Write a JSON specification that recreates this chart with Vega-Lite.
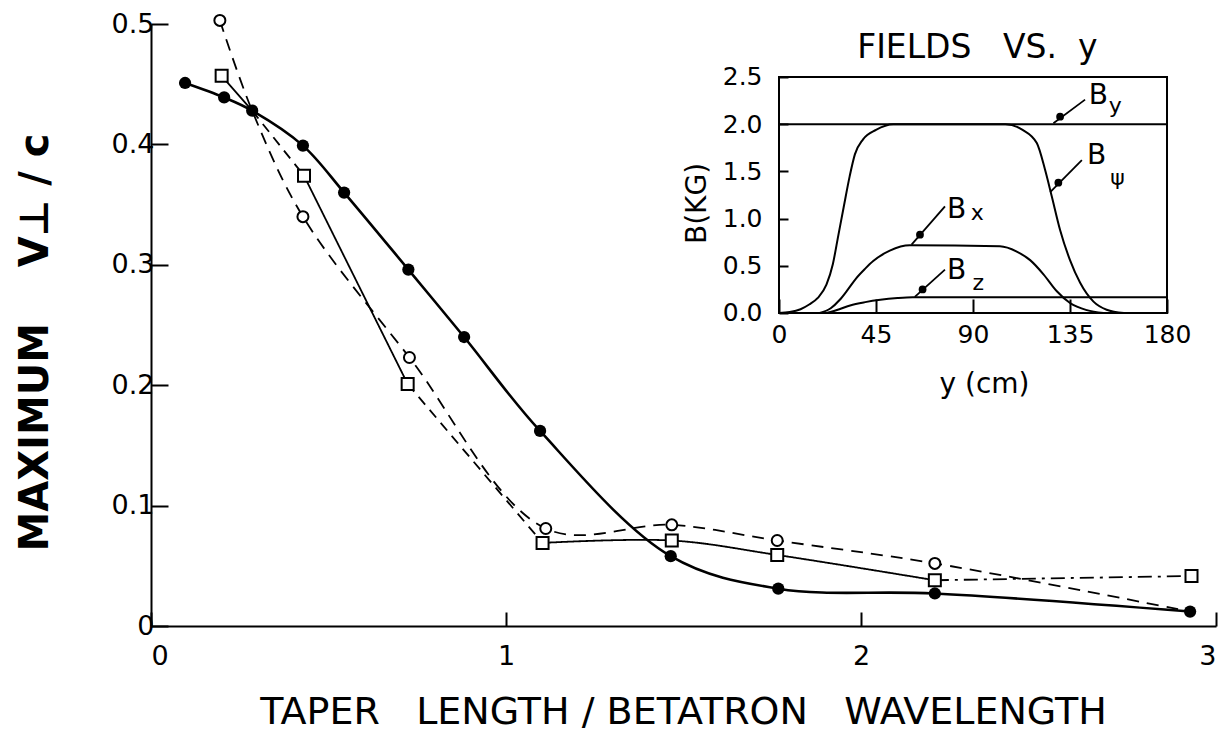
{
  "$schema": "https://vega.github.io/schema/vega-lite/v6.json",
  "width": 1065,
  "height": 602,
  "autosize": {"type": "none"},
  "padding": {"left": 151, "top": 24, "right": 14, "bottom": 108},
  "background": "white",
  "config": {
    "view": {"stroke": null},
    "font": "DejaVu Sans",
    "axis": {
      "grid": false,
      "domainColor": "black",
      "tickColor": "black",
      "labelColor": "black",
      "titleColor": "black",
      "labelFont": "DejaVu Sans",
      "titleFont": "DejaVu Sans",
      "titleFontWeight": "normal"
    }
  },
  "datasets": {
    "main_points": [
      {"series": "filled", "x": 0.096, "y": 0.451},
      {"series": "filled", "x": 0.206, "y": 0.439},
      {"series": "filled", "x": 0.285, "y": 0.428},
      {"series": "filled", "x": 0.428, "y": 0.399},
      {"series": "filled", "x": 0.544, "y": 0.360},
      {"series": "filled", "x": 0.725, "y": 0.296},
      {"series": "filled", "x": 0.882, "y": 0.240},
      {"series": "filled", "x": 1.096, "y": 0.162},
      {"series": "filled", "x": 1.464, "y": 0.058},
      {"series": "filled", "x": 1.767, "y": 0.031},
      {"series": "filled", "x": 2.208, "y": 0.027},
      {"series": "filled", "x": 2.927, "y": 0.012},
      {"series": "open", "x": 0.194, "y": 0.503},
      {"series": "open", "x": 0.285, "y": 0.428},
      {"series": "open", "x": 0.428, "y": 0.340},
      {"series": "open", "x": 0.728, "y": 0.223},
      {"series": "open", "x": 1.112, "y": 0.081},
      {"series": "open", "x": 1.467, "y": 0.084},
      {"series": "open", "x": 1.764, "y": 0.071},
      {"series": "open", "x": 2.208, "y": 0.052},
      {"series": "open", "x": 2.927, "y": 0.012},
      {"series": "square", "x": 0.199, "y": 0.457},
      {"series": "square", "x": 0.285, "y": 0.428},
      {"series": "square", "x": 0.431, "y": 0.374},
      {"series": "square", "x": 0.723, "y": 0.201},
      {"series": "square", "x": 1.103, "y": 0.069},
      {"series": "square", "x": 1.467, "y": 0.071},
      {"series": "square", "x": 1.764, "y": 0.059},
      {"series": "square", "x": 2.208, "y": 0.038},
      {"series": "square", "x": 2.931, "y": 0.0415}
    ],
    "main_lines": [
      {"seg": "filled", "x": 0.096, "y": 0.451},
      {"seg": "filled", "x": 0.206, "y": 0.439},
      {"seg": "filled", "x": 0.285, "y": 0.428},
      {"seg": "filled", "x": 0.428, "y": 0.399},
      {"seg": "filled", "x": 0.544, "y": 0.360},
      {"seg": "filled", "x": 0.725, "y": 0.296},
      {"seg": "filled", "x": 0.882, "y": 0.240},
      {"seg": "filled", "x": 1.096, "y": 0.162},
      {"seg": "filled", "x": 1.464, "y": 0.058},
      {"seg": "filled", "x": 1.767, "y": 0.031},
      {"seg": "filled", "x": 2.208, "y": 0.027},
      {"seg": "filled", "x": 2.927, "y": 0.012},
      {"seg": "open", "x": 0.194, "y": 0.503},
      {"seg": "open", "x": 0.285, "y": 0.428},
      {"seg": "open", "x": 0.428, "y": 0.340},
      {"seg": "open", "x": 0.728, "y": 0.223},
      {"seg": "open", "x": 1.112, "y": 0.081},
      {"seg": "open", "x": 1.467, "y": 0.084},
      {"seg": "open", "x": 1.764, "y": 0.071},
      {"seg": "open", "x": 2.208, "y": 0.052},
      {"seg": "open", "x": 2.927, "y": 0.012},
      {"seg": "sqA", "x": 0.199, "y": 0.457},
      {"seg": "sqA", "x": 0.285, "y": 0.428},
      {"seg": "sqB", "x": 0.285, "y": 0.428},
      {"seg": "sqB", "x": 0.431, "y": 0.374},
      {"seg": "sqC", "x": 0.431, "y": 0.374},
      {"seg": "sqC", "x": 0.723, "y": 0.201},
      {"seg": "sqD", "x": 0.723, "y": 0.201},
      {"seg": "sqD", "x": 1.103, "y": 0.069},
      {"seg": "sqE", "x": 1.103, "y": 0.069},
      {"seg": "sqE", "x": 1.467, "y": 0.071},
      {"seg": "sqE", "x": 1.764, "y": 0.059},
      {"seg": "sqE", "x": 2.208, "y": 0.038},
      {"seg": "sqF", "x": 2.208, "y": 0.038},
      {"seg": "sqF", "x": 2.931, "y": 0.0415}
    ],
    "fields": [
      {"series": "By", "cm": 0, "kg": 2.0},
      {"series": "By", "cm": 180, "kg": 2.0},
      {"series": "Bpsi", "cm": 0, "kg": 0},
      {"series": "Bpsi", "cm": 5, "kg": 0.01},
      {"series": "Bpsi", "cm": 10, "kg": 0.04},
      {"series": "Bpsi", "cm": 14, "kg": 0.09},
      {"series": "Bpsi", "cm": 18, "kg": 0.16},
      {"series": "Bpsi", "cm": 22, "kg": 0.3},
      {"series": "Bpsi", "cm": 25, "kg": 0.52},
      {"series": "Bpsi", "cm": 27.5, "kg": 0.82},
      {"series": "Bpsi", "cm": 30, "kg": 1.12},
      {"series": "Bpsi", "cm": 32.8, "kg": 1.45},
      {"series": "Bpsi", "cm": 35.2, "kg": 1.68},
      {"series": "Bpsi", "cm": 39, "kg": 1.84},
      {"series": "Bpsi", "cm": 45, "kg": 1.94},
      {"series": "Bpsi", "cm": 53, "kg": 2.0},
      {"series": "Bpsi", "cm": 105, "kg": 2.0},
      {"series": "Bpsi", "cm": 113, "kg": 1.94},
      {"series": "Bpsi", "cm": 119.6, "kg": 1.8},
      {"series": "Bpsi", "cm": 123.4, "kg": 1.52},
      {"series": "Bpsi", "cm": 126.5, "kg": 1.24},
      {"series": "Bpsi", "cm": 130.4, "kg": 0.88},
      {"series": "Bpsi", "cm": 135, "kg": 0.56},
      {"series": "Bpsi", "cm": 139.7, "kg": 0.32},
      {"series": "Bpsi", "cm": 145.9, "kg": 0.12},
      {"series": "Bpsi", "cm": 152, "kg": 0.035},
      {"series": "Bpsi", "cm": 160, "kg": 0},
      {"series": "Bx", "cm": 18.9, "kg": 0},
      {"series": "Bx", "cm": 24, "kg": 0.05},
      {"series": "Bx", "cm": 28.2, "kg": 0.14},
      {"series": "Bx", "cm": 32, "kg": 0.25},
      {"series": "Bx", "cm": 35.9, "kg": 0.37},
      {"series": "Bx", "cm": 40, "kg": 0.47},
      {"series": "Bx", "cm": 43.7, "kg": 0.55},
      {"series": "Bx", "cm": 51.4, "kg": 0.66},
      {"series": "Bx", "cm": 60.7, "kg": 0.717},
      {"series": "Bx", "cm": 102.5, "kg": 0.706},
      {"series": "Bx", "cm": 110.3, "kg": 0.65},
      {"series": "Bx", "cm": 116.5, "kg": 0.56},
      {"series": "Bx", "cm": 122.7, "kg": 0.41},
      {"series": "Bx", "cm": 128.9, "kg": 0.23},
      {"series": "Bx", "cm": 135, "kg": 0.106},
      {"series": "Bx", "cm": 142.8, "kg": 0.03},
      {"series": "Bx", "cm": 150.5, "kg": 0},
      {"series": "Bz", "cm": 22, "kg": 0},
      {"series": "Bz", "cm": 28, "kg": 0.04},
      {"series": "Bz", "cm": 33, "kg": 0.08},
      {"series": "Bz", "cm": 40, "kg": 0.115},
      {"series": "Bz", "cm": 47, "kg": 0.14},
      {"series": "Bz", "cm": 55, "kg": 0.158},
      {"series": "Bz", "cm": 62, "kg": 0.166},
      {"series": "Bz", "cm": 180, "kg": 0.166}
    ],
    "inset_labels": [
      {"text": "B", "cm": 148.2, "kg": 2.295},
      {"text": "B", "cm": 147.4, "kg": 1.66},
      {"text": "B", "cm": 82.4, "kg": 1.095},
      {"text": "B", "cm": 82.4, "kg": 0.44}
    ],
    "inset_subs": [
      {"text": "y", "cm": 156.0, "kg": 2.19},
      {"text": "ψ", "cm": 157.0, "kg": 1.43},
      {"text": "x", "cm": 92.0, "kg": 1.06},
      {"text": "z", "cm": 92.5, "kg": 0.318}
    ],
    "inset_arrows": [
      {"cm": 142.0, "kg": 2.26, "cm2": 127.3, "kg2": 2.01},
      {"cm": 140.5, "kg": 1.62, "cm2": 125.8, "kg2": 1.28},
      {"cm": 77.0, "kg": 1.13, "cm2": 61.5, "kg2": 0.724},
      {"cm": 77.0, "kg": 0.46, "cm2": 63.0, "kg2": 0.17}
    ],
    "inset_heads": [
      {"cm": 130.4, "kg": 2.08},
      {"cm": 129.6, "kg": 1.38},
      {"cm": 65.4, "kg": 0.83},
      {"cm": 66.6, "kg": 0.25}
    ]
  },
  "layer": [
    {
      "layer": [
        {
          "data": {"name": "main_lines"},
          "transform": [{"filter": "datum.seg != 'filled'"}],
          "mark": {"type": "line", "interpolate": "catmull-rom", "color": "black", "strokeWidth": 1.8},
          "encoding": {
            "x": {
              "field": "x", "type": "quantitative",
              "scale": {"domain": [0, 3], "nice": false, "zero": false},
              "axis": {
                "values": [0, 1, 2, 3], "format": "d",
                "domainWidth": 2, "tickWidth": 2, "tickSize": -14,
                "labelFontSize": 27, "labelPadding": 31,
                "title": "TAPER\u00a0\u00a0 LENGTH\u00a0/\u00a0BETATRON\u00a0\u00a0 WAVELENGTH",
                "titleFontSize": 38, "titleX": 532, "titleY": 97, "titleBaseline": "alphabetic"
              }
            },
            "y": {
              "field": "y", "type": "quantitative",
              "scale": {"domain": [0, 0.5], "nice": false, "zero": false},
              "axis": {
                "values": [0, 0.1, 0.2, 0.3, 0.4, 0.5],
                "labelExpr": "datum.value == 0 ? '0' : format(datum.value, '.1f')",
                "domainWidth": 2, "tickWidth": 2, "tickSize": -17,
                "labelFontSize": 27, "labelPadding": 14,
                "title": "MAXIMUM\u00a0\u00a0\u00a0 V⊥\u00a0/\u00a0c",
                "titleFontSize": 40, "titleFontWeight": "bold",
                "titleX": -116, "titleY": 318, "titleBaseline": "middle", "titleAlign": "center", "titleAngle": -90
              }
            },
            "detail": {"field": "seg"},
            "strokeDash": {
              "field": "seg", "type": "nominal",
              "scale": {
                "domain": ["open", "sqA", "sqB", "sqC", "sqD", "sqE", "sqF"],
                "range": [[12, 8], [1, 0], [10, 7], [1, 0], [10, 7], [1, 0], [14, 6, 3, 6]]
              },
              "legend": null
            }
          }
        },
        {
          "data": {"name": "main_lines"},
          "transform": [{"filter": "datum.seg == 'filled'"}],
          "mark": {"type": "line", "interpolate": "catmull-rom", "color": "black", "strokeWidth": 2.6},
          "encoding": {
            "x": {"field": "x", "type": "quantitative"},
            "y": {"field": "y", "type": "quantitative"}
          }
        },
        {
          "data": {"name": "main_points"},
          "transform": [{"filter": "datum.series == 'square' && datum.x != 0.285"}],
          "mark": {"type": "point", "shape": "square", "filled": true, "fill": "white", "stroke": "black", "strokeWidth": 2, "size": 144, "opacity": 1},
          "encoding": {
            "x": {"field": "x", "type": "quantitative"},
            "y": {"field": "y", "type": "quantitative"}
          }
        },
        {
          "data": {"name": "main_points"},
          "transform": [{"filter": "datum.series == 'open' && datum.x != 0.285 && datum.x < 2.9"}],
          "mark": {"type": "point", "shape": "circle", "filled": true, "fill": "white", "stroke": "black", "strokeWidth": 2, "size": 121, "opacity": 1},
          "encoding": {
            "x": {"field": "x", "type": "quantitative"},
            "y": {"field": "y", "type": "quantitative"}
          }
        },
        {
          "data": {"name": "main_points"},
          "transform": [{"filter": "datum.series == 'filled'"}],
          "mark": {"type": "point", "shape": "circle", "filled": true, "fill": "black", "size": 150, "opacity": 1},
          "encoding": {
            "x": {"field": "x", "type": "quantitative"},
            "y": {"field": "y", "type": "quantitative"}
          }
        }
      ]
    },
    {
      "layer": [
        {
          "data": {"name": "fields"},
          "mark": {"type": "line", "interpolate": "monotone", "color": "black", "strokeWidth": 2},
          "encoding": {
            "x": {
              "field": "cm", "type": "quantitative",
              "scale": {"domain": [-291.34, 202.73], "nice": false, "zero": false},
              "axis": {
                "orient": "bottom", "offset": -313,
                "values": [0, 45, 90, 135, 180], "format": "d",
                "domain": false, "tickWidth": 2, "tickSize": -14,
                "labelFontSize": 25, "labelPadding": 23,
                "title": "y (cm)", "titleFontSize": 28,
                "titleX": 833, "titleY": 79, "titleBaseline": "alphabetic"
              }
            },
            "y": {
              "field": "kg", "type": "quantitative",
              "scale": {"domain": [-3.3157, 3.0614], "nice": false, "zero": false},
              "axis": {
                "orient": "left", "offset": -628,
                "values": [0, 0.5, 1, 1.5, 2, 2.5], "format": ".1f",
                "domain": false, "tickWidth": 2, "tickSize": -9,
                "labelFontSize": 25, "labelPadding": 26,
                "title": "B(KG)", "titleFontSize": 28,
                "titleX": -82, "titleY": 179, "titleBaseline": "middle", "titleAlign": "center", "titleAngle": -90
              }
            },
            "detail": {"field": "series"}
          }
        },
        {
          "data": {"values": [{}]},
          "mark": {"type": "rect", "fill": null, "stroke": "black", "strokeWidth": 2},
          "encoding": {
            "x": {"datum": 0, "type": "quantitative"},
            "x2": {"datum": 180},
            "y": {"datum": 0, "type": "quantitative"},
            "y2": {"datum": 2.5}
          }
        },
        {
          "data": {"name": "inset_arrows"},
          "mark": {"type": "rule", "color": "black", "strokeWidth": 1.8},
          "encoding": {
            "x": {"field": "cm", "type": "quantitative"},
            "y": {"field": "kg", "type": "quantitative"},
            "x2": {"field": "cm2"},
            "y2": {"field": "kg2"}
          }
        },
        {
          "data": {"name": "inset_heads"},
          "mark": {"type": "point", "shape": "circle", "filled": true, "fill": "black", "size": 60, "opacity": 1},
          "encoding": {
            "x": {"field": "cm", "type": "quantitative"},
            "y": {"field": "kg", "type": "quantitative"}
          }
        },
        {
          "data": {"name": "inset_labels"},
          "mark": {"type": "text", "fontSize": 28, "align": "center", "baseline": "middle", "color": "black"},
          "encoding": {
            "x": {"field": "cm", "type": "quantitative"},
            "y": {"field": "kg", "type": "quantitative"},
            "text": {"field": "text"}
          }
        },
        {
          "data": {"name": "inset_subs"},
          "mark": {"type": "text", "fontSize": 22, "align": "center", "baseline": "middle", "color": "black"},
          "encoding": {
            "x": {"field": "cm", "type": "quantitative"},
            "y": {"field": "kg", "type": "quantitative"},
            "text": {"field": "text"}
          }
        },
        {
          "data": {"values": [{}]},
          "mark": {"type": "text", "fontSize": 33, "align": "center", "baseline": "alphabetic", "color": "black", "text": "FIELDS\u00a0\u00a0 VS.\u00a0 y"},
          "encoding": {
            "x": {"datum": 92, "type": "quantitative"},
            "y": {"datum": 2.7, "type": "quantitative"}
          }
        }
      ]
    }
  ],
  "resolve": {
    "scale": {"x": "independent", "y": "independent"},
    "axis": {"x": "independent", "y": "independent"}
  }
}
